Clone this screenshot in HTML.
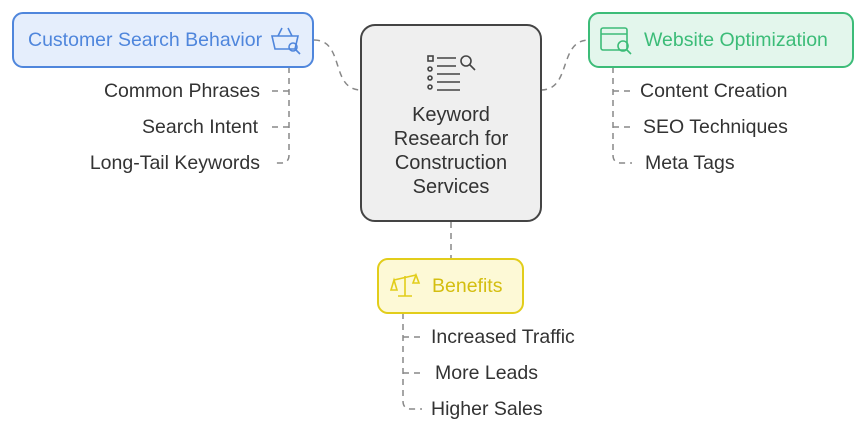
<!DOCTYPE html>
<html><head><meta charset="utf-8"><style>
html,body{margin:0;padding:0;background:#fff;}
body{width:866px;height:433px;position:relative;overflow:hidden;font-family:"Liberation Sans",Arial,sans-serif;}
.t{position:absolute;font-size:19.5px;color:#333;white-space:nowrap;line-height:22px;}
</style></head><body>
<svg width="866" height="433" style="position:absolute;left:0;top:0">
<g fill="none" stroke="#888" stroke-width="1.5" stroke-dasharray="6,5">
<path d="M314 40 C345 40 330 90 361 90"/>
<path d="M541 90 C572 90 558 40 589 40"/>
<path d="M451 222 L451 259"/>
<path d="M289 67 L289 155 Q289 163 281 163 L272 163"/>
<path d="M289 91 L272 91 M289 127 L272 127"/>
<path d="M613 67 L613 155 Q613 163 621 163 L632 163"/>
<path d="M613 91 L632 91 M613 127 L632 127"/>
<path d="M403 313 L403 401 Q403 409 411 409 L422 409"/>
<path d="M403 337 L422 337 M403 373 L422 373"/>
</g>
<rect x="13" y="13" width="300" height="54" rx="10" fill="#e5eefc" stroke="#4f86dc" stroke-width="2"/>
<rect x="361" y="25" width="180" height="196" rx="14" fill="#efefef" stroke="#444" stroke-width="2"/>
<rect x="589" y="13" width="264" height="54" rx="10" fill="#e3f6ec" stroke="#3cbc78" stroke-width="2"/>
<rect x="378" y="259" width="145" height="54" rx="10" fill="#fdf9d6" stroke="#e2cd1a" stroke-width="2"/>
<g fill="none" stroke="#4f86dc" stroke-width="1.6">
<path d="M272 36 L298 36 L295 49 L275 49 Z"/><path d="M278 36 L282 28 M292 36 L288 28"/>
<circle cx="293" cy="47" r="4"/><path d="M296 50 L300 54"/>
</g>
<g fill="none" stroke="#444" stroke-width="1.6">
<rect x="428" y="56" width="5" height="5"/><circle cx="430" cy="69" r="2"/><circle cx="430" cy="78" r="2"/><circle cx="430" cy="87" r="2"/>
<path d="M437 58 L456 58 M437 66 L456 66 M437 74 L460 74 M437 82 L460 82 M437 90 L460 90"/>
<circle cx="466" cy="61" r="5"/><path d="M470 65 L475 70"/>
</g>
<g fill="none" stroke="#3cbc78" stroke-width="1.6">
<rect x="601" y="28" width="26" height="22" rx="2"/><path d="M601 34 L627 34"/>
<circle cx="623" cy="46" r="5"/><path d="M627 50 L631 54"/>
</g>
<g fill="none" stroke="#e2cd1a" stroke-width="1.6">
<path d="M405 276 L405 296 M398 296 L412 296 M394 280 L416 275"/>
<path d="M394 280 L391 290 L397 290 Z M416 275 L413 283 L419 283 Z"/>
</g>
</svg>
<div class="t" style="left:28px;top:29px;color:#4f86dc">Customer Search Behavior</div>
<div class="t" style="left:644px;top:29px;color:#3cbc78">Website Optimization</div>
<div class="t" style="left:432px;top:275px;color:#d4be10">Benefits</div>
<div class="t" style="left:351px;width:200px;top:103px;text-align:center;line-height:24px;font-size:20px">Keyword<br>Research for<br>Construction<br>Services</div>
<div class="t" style="right:606px;top:80px">Common Phrases</div>
<div class="t" style="right:608px;top:116px">Search Intent</div>
<div class="t" style="right:606px;top:152px">Long-Tail Keywords</div>
<div class="t" style="left:640px;top:80px">Content Creation</div>
<div class="t" style="left:643px;top:116px">SEO Techniques</div>
<div class="t" style="left:645px;top:152px">Meta Tags</div>
<div class="t" style="left:431px;top:326px">Increased Traffic</div>
<div class="t" style="left:435px;top:362px">More Leads</div>
<div class="t" style="left:431px;top:398px">Higher Sales</div>
</body></html>
